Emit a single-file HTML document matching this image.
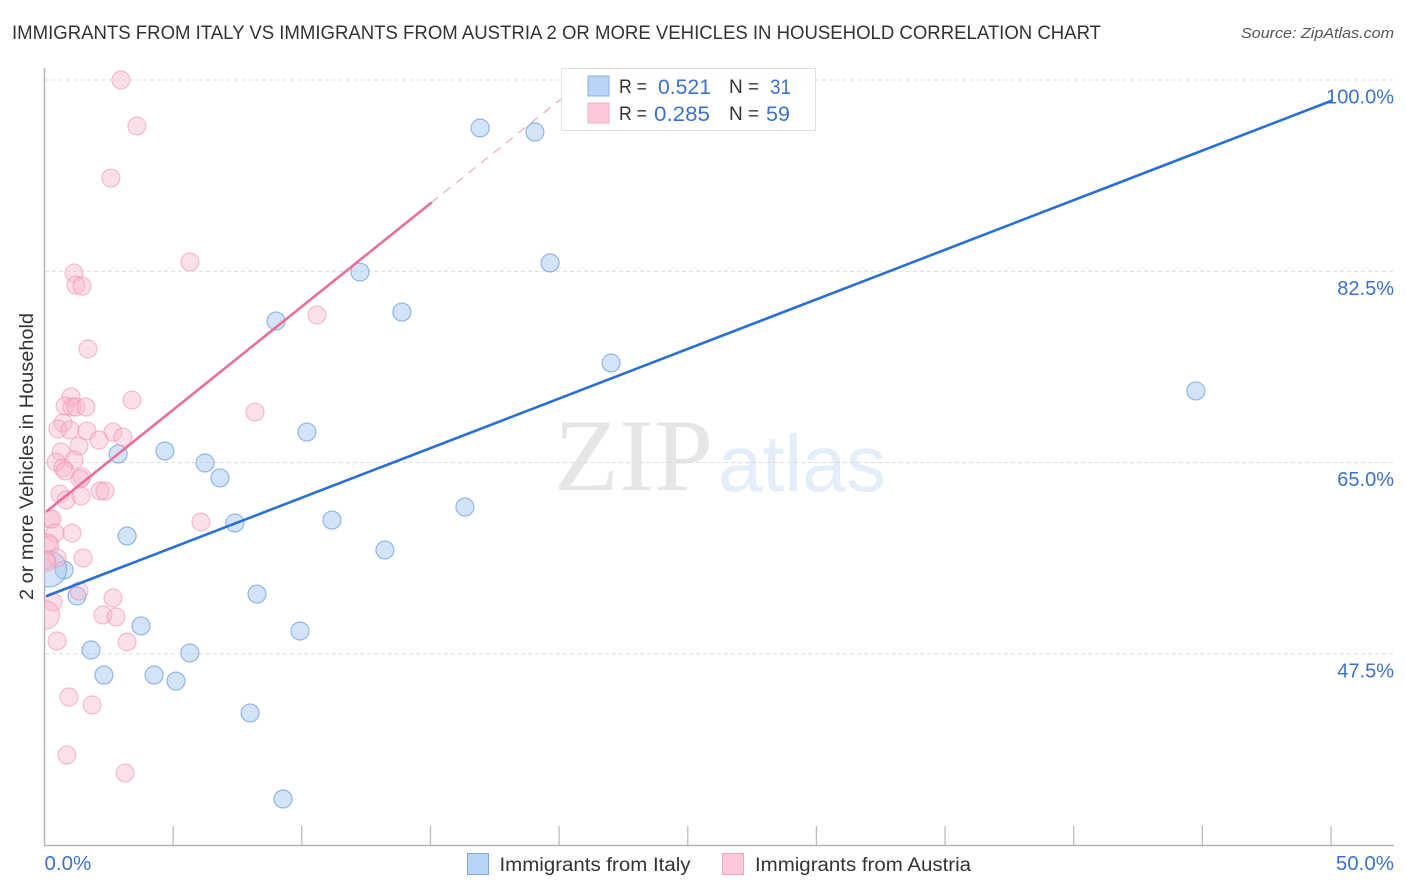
<!DOCTYPE html>
<html>
<head>
<meta charset="utf-8">
<title>Immigrants from Italy vs Immigrants from Austria Correlation Chart</title>
<style>
html,body{margin:0;padding:0;background:#fff;width:1406px;height:892px;overflow:hidden}
svg{display:block}
text{font-family:"Liberation Sans",sans-serif}
</style>
</head>
<body>
<svg id="chart" width="1406" height="892" viewBox="0 0 1406 892" xmlns="http://www.w3.org/2000/svg">
  <defs><clipPath id="plot-clip"><rect x="44.5" y="68" width="1350" height="777"/></clipPath></defs>
  <text x="12" y="39" font-size="19.5" fill="#333" textLength="1089" lengthAdjust="spacingAndGlyphs">IMMIGRANTS FROM ITALY VS IMMIGRANTS FROM AUSTRIA 2 OR MORE VEHICLES IN HOUSEHOLD CORRELATION CHART</text>
  <text x="1394" y="38" font-size="15" font-style="italic" fill="#555" text-anchor="end" textLength="153" lengthAdjust="spacingAndGlyphs">Source: ZipAtlas.com</text>
  <g id="watermark">
    <text x="554" y="490" font-size="103" fill="#e6e6e6" textLength="159" lengthAdjust="spacingAndGlyphs" style="font-family:'Liberation Serif',serif">ZIP</text>
    <text x="718" y="491" font-size="80" fill="#e4edfa" textLength="168" lengthAdjust="spacingAndGlyphs">atlas</text>
  </g>
  <g id="grid"></g>
  <g id="axes"></g>
  <g id="points" clip-path="url(#plot-clip)"></g>
  <g id="extension" clip-path="url(#plot-clip)"></g>

  <g>
    <rect x="561.5" y="68.5" width="254" height="62" fill="#fff" fill-opacity="0.9" stroke="#e0e0e0"/>
    <rect x="588" y="76" width="21" height="20" fill="#b8d4f7" stroke="#8ab2e6"/>
    <rect x="588" y="103" width="21" height="20" fill="#fcc8d9" stroke="#f7abc3"/>
    <text x="619" y="93" font-size="19" fill="#333" textLength="28" lengthAdjust="spacingAndGlyphs">R =</text>
    <text x="658" y="94" font-size="21" fill="#3b72d0" textLength="53" lengthAdjust="spacingAndGlyphs">0.521</text>
    <text x="729" y="93" font-size="19" fill="#333">N =</text>
    <text x="770" y="94" font-size="21" fill="#3b72d0" textLength="21" lengthAdjust="spacingAndGlyphs">31</text>
    <text x="619" y="120" font-size="19" fill="#333" textLength="28" lengthAdjust="spacingAndGlyphs">R =</text>
    <text x="654" y="121" font-size="21" fill="#3b72d0" textLength="56" lengthAdjust="spacingAndGlyphs">0.285</text>
    <text x="729" y="120" font-size="19" fill="#333">N =</text>
    <text x="766" y="121" font-size="21" fill="#3b72d0" textLength="24" lengthAdjust="spacingAndGlyphs">59</text>
  </g>

  <g id="trends" clip-path="url(#plot-clip)"></g>
  <text transform="translate(33,456.5) rotate(-90)" font-size="19" fill="#333" text-anchor="middle" textLength="287" lengthAdjust="spacingAndGlyphs">2 or more Vehicles in Household</text>

  <g>
    <g>
      <rect x="467.5" y="853.5" width="21" height="21" fill="#b8d4f7" stroke="#7fa8e0"/>
      <text x="499.5" y="871" font-size="19" fill="#333" textLength="191" lengthAdjust="spacingAndGlyphs">Immigrants from Italy</text>
    </g>
    <g>
      <rect x="722.5" y="853.5" width="21" height="21" fill="#fcc8d9" stroke="#f4a6bf"/>
      <text x="755" y="871" font-size="19" fill="#333" textLength="216" lengthAdjust="spacingAndGlyphs">Immigrants from Austria</text>
    </g>
  </g>
</svg>
<script>
// ---- chart data (percent values) ----
const italyX = [16.93,19.06,19.65,12.26,13.89,9.00,22.02,44.75,10.20,4.68,2.86,6.24,6.82,16.34,11.17,7.40,3.21,13.23,0.76,1.26,8.26,3.75,9.93,1.81,5.65,2.31,4.26,5.11,7.99,9.27,0.16];
const italyY = [95.61,95.24,83.26,82.43,78.77,77.95,74.11,71.55,67.79,66.06,65.78,64.96,63.59,60.93,59.74,59.47,58.28,57.00,55.17,52.79,52.97,50.05,49.59,47.85,47.58,45.56,45.56,45.01,42.09,34.22,55.26];
const italySize = [1,1,1,1,1,1,1,1,1,1,1,1,1,1,1,1,1,1,1,1,1,1,1,1,1,1,1,1,1,1,2];
const austriaX = [2.97,3.59,2.58,5.65,1.15,1.22,1.46,10.59,1.69,3.40,1.03,0.80,1.07,1.22,1.61,8.18,0.72,0.52,0.99,1.65,2.66,3.05,2.12,1.34,0.64,0.45,1.15,0.72,0.80,1.46,1.38,0.60,0.84,1.42,2.16,2.35,6.08,0.21,0.29,0.41,1.07,0.14,0.21,0.49,1.50,0.10,0.06,1.34,0.33,2.66,2.27,2.78,0.02,0.49,3.21,0.95,1.85,0.87,3.13];
const austriaY = [100.0,95.79,91.03,83.35,82.34,81.24,81.15,78.50,75.39,70.72,71.00,70.17,70.08,70.08,70.08,69.62,68.62,68.07,67.98,67.89,67.79,67.34,67.06,66.51,65.97,65.05,65.23,64.50,64.23,63.68,63.49,62.12,61.57,61.94,62.40,62.40,59.56,59.84,59.84,58.55,58.55,57.64,57.46,56.27,56.27,55.90,56.10,53.25,52.24,52.61,51.05,50.87,51.05,48.67,48.58,43.55,42.82,38.24,36.60];
const austriaSize = [1,1,1,1,1,1,1,1,1,1,1,1,1,1,1,1,1,1,1,1,1,1,1,1,1,1,1,1,1,1,1,1,1,1,1,1,1,1,1,1,1,1,1,1,1,1,1,1,1,1,1,1,1.6,1,1,1,1,1,1];
const italyTrendX = [0.1,50];
const italyTrendY = [52.8,98.08];
const austriaTrendX = [0.1,15.02];
const austriaTrendY = [60.57,88.75];
const austriaExtendX = [15.02,21.0];
const austriaExtendY = [88.75,100.0];
const yTicks = [100,82.5,65,47.5];
const yTickLabels = ["100.0%","82.5%","65.0%","47.5%"];
const xTicks = [5,10,15,20,25,30,35,40,45,50];
const xEndTicks = [0,50];
const xEndLabels = ["0.0%","50.0%"];

// ---- axis functions ----
const SVGNS = "http://www.w3.org/2000/svg";
function xScale(v){ return 44.5 + v * 25.73; }
function yScale(v){ return 80 + (100 - v) * 10.93; }
function sizeScale(s){ return 9 * s; }
function mk(tag, attrs, parent){
  const el = document.createElementNS(SVGNS, tag);
  for (const k in attrs) el.setAttribute(k, attrs[k]);
  parent.appendChild(el);
  return el;
}
const gridG = document.getElementById("grid");
const axesG = document.getElementById("axes");
const pointsG = document.getElementById("points");
const extensionG = document.getElementById("extension");
const trendsG = document.getElementById("trends");

yTicks.forEach(function(t, i){
  const y = yScale(t);
  const line = mk("line", {x1:45, x2:1394, y1:y, y2:y, stroke:"#dcdcdc", "stroke-width":1, "stroke-dasharray":"4 3"}, gridG);
  
  
  const label = mk("text", {x:1394, y:y+23.5, "font-size":20, fill:"#3b72d0", "text-anchor":"end"}, axesG);
  label.textContent = yTickLabels[i];
  
  
});

const yAxis = mk("line", {x1:44.5, x2:44.5, y1:68, y2:846, stroke:"#b4b4b4", "stroke-width":1.5}, axesG);


const xAxis = mk("line", {x1:44, x2:1394, y1:845.5, y2:845.5, stroke:"#b4b4b4", "stroke-width":1.5}, axesG);



xTicks.forEach(function(t){
  const x = xScale(t);
  const tick = mk("line", {x1:x, x2:x, y1:826, y2:845, stroke:"#bdbdbd", "stroke-width":1.3}, axesG);
  
  
});
xEndTicks.forEach(function(t, i){
  const label = mk("text", {x: i === 0 ? xScale(t) : 1394, y:870, "font-size":20.5, fill:"#3b72d0", "text-anchor": i === 0 ? "start" : "end"}, axesG);
  label.textContent = xEndLabels[i];
  
  
});

italyX.forEach(function(v, i){
  const c = mk("circle", {cx:xScale(v), cy:yScale(italyY[i]), r:sizeScale(italySize[i]), fill:"#a9c9f2", "fill-opacity":0.5, stroke:"#6e9fe0", "stroke-opacity":0.72, "stroke-width":1.2}, pointsG);
  
  
});
austriaX.forEach(function(v, i){
  const c = mk("circle", {cx:xScale(v), cy:yScale(austriaY[i]), r:sizeScale(austriaSize[i]), fill:"#f9b6cb", "fill-opacity":0.42, stroke:"#ee8fae", "stroke-opacity":0.55, "stroke-width":1.2}, pointsG);
  
  
});

const extend = mk("line", {x1:xScale(austriaExtendX[0]), y1:yScale(austriaExtendY[0]), x2:xScale(austriaExtendX[1]), y2:yScale(austriaExtendY[1]), stroke:"#ee9ab5", "stroke-width":1, "stroke-dasharray":"9 7"}, extensionG);


const austriaLine = mk("line", {x1:xScale(austriaTrendX[0]), y1:yScale(austriaTrendY[0]), x2:xScale(austriaTrendX[1]), y2:yScale(austriaTrendY[1]), stroke:"#ea6f96", "stroke-width":2.6, "stroke-linecap":"round"}, trendsG);


const italyLine = mk("line", {x1:xScale(italyTrendX[0]), y1:yScale(italyTrendY[0]), x2:xScale(italyTrendX[1]), y2:yScale(italyTrendY[1]), stroke:"#2a6fd6", "stroke-width":2.6, "stroke-linecap":"round"}, trendsG);


</script>
</body>
</html>
